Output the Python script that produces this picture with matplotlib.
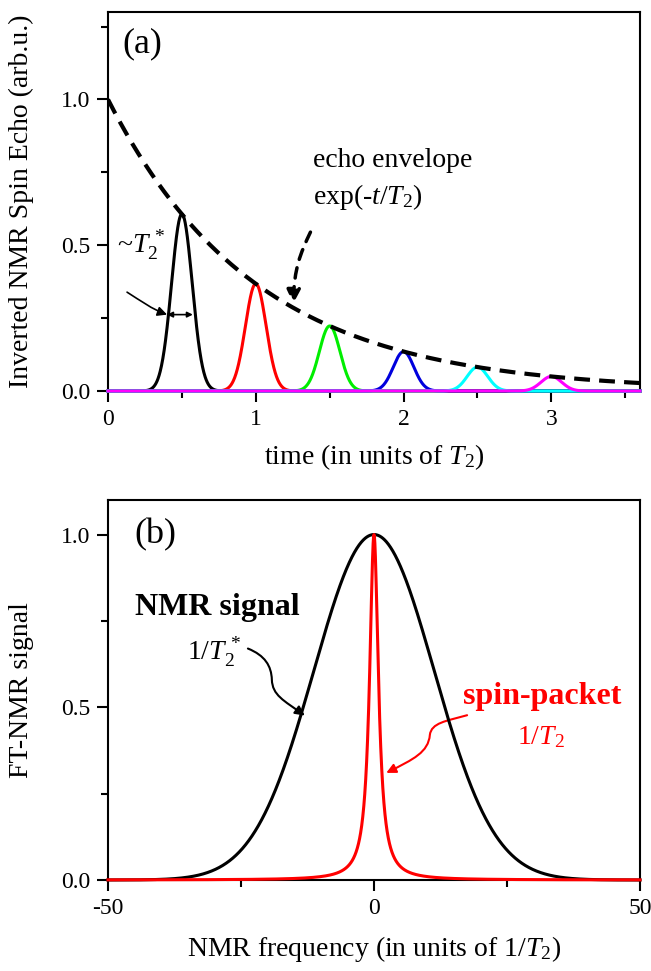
import numpy as np
import matplotlib
matplotlib.use("Agg")
import matplotlib.pyplot as plt
from matplotlib.patches import FancyArrowPatch
from matplotlib.path import Path
from matplotlib.ticker import MultipleLocator

plt.rcParams["font.family"] = ["Liberation Serif", "DejaVu Serif"]
plt.rcParams["mathtext.fontset"] = "custom"
plt.rcParams["mathtext.rm"] = "Liberation Serif"
plt.rcParams["mathtext.it"] = "Liberation Serif:italic"
plt.rcParams["mathtext.bf"] = "Liberation Serif:bold"

# panel (a): echo train
echo_centers = [0.5, 1.0, 1.5, 2.0, 2.5, 3.0]
echo_heights = [0.607, 0.368, 0.223, 0.135, 0.082, 0.050]
echo_width = 0.07  # gaussian sigma, units of T2
echo_colors = ["black", "red", "#00ee00", "#0000dd", "cyan", "magenta"]
envelope_T2 = 1.0

# panel (b): spectra
gauss_sigma = 11.3   # inhomogeneous line, units of 1/T2
lorentz_hwhm = 1.0   # spin-packet line

W, H = 651, 971
fig = plt.figure(figsize=(W / 100, H / 100), dpi=100)
ax_a = fig.add_axes([108 / W, 1 - 391 / H, 532 / W, 379 / H])
ax_b = fig.add_axes([108 / W, 1 - 880 / H, 532 / W, 380 / H])

FS = 20
FS_TICK = 17
FS_BOLD = 23

t = np.linspace(0, 3.6, 2000)
for c, h, col in zip(echo_centers, echo_heights, echo_colors):
    ax_a.plot(t, h * np.exp(-(t - c) ** 2 / (2 * echo_width ** 2)), color=col,
              lw=2.2, zorder=3, clip_on=False)
ax_a.plot(t, np.exp(-t / envelope_T2), color="black", lw=3.0, ls=(0, (3.8, 2.2)),
          zorder=3)

ax_a.set_xlim(0, 3.6)
ax_a.set_ylim(0, 1.3)
ax_a.xaxis.set_major_locator(MultipleLocator(1))
ax_a.xaxis.set_minor_locator(MultipleLocator(0.5))
ax_a.yaxis.set_major_locator(MultipleLocator(0.5))
ax_a.yaxis.set_minor_locator(MultipleLocator(0.25))
ax_a.xaxis.set_major_formatter(lambda v, p: f"{v:.0f}")
ax_a.yaxis.set_major_formatter(lambda v, p: f"{v:.1f}")
ax_a.set_xlabel(r"time (in units of $T_2$)", fontsize=FS)
ax_a.set_ylabel("Inverted NMR Spin Echo (arb.u.)", fontsize=FS)
ax_a.xaxis.set_label_coords(0.5, -0.135)
ax_a.yaxis.set_label_coords(-0.14, 0.5)

ax_a.text(0.1, 1.19, "(a)", fontsize=26, va="center")
ax_a.text(1.39, 0.79, "echo envelope", fontsize=FS, va="center")
ax_a.text(1.39, 0.665, r"exp(-$t$/$T_2$)", fontsize=FS, va="center")
ax_a.text(0.06, 0.5, r"~$T_2^{\,*}$", fontsize=FS, va="center")

p = Path([(0.129, 0.339), (0.22, 0.31), (0.30, 0.28), (0.40, 0.262)],
         [Path.MOVETO, Path.CURVE4, Path.CURVE4, Path.CURVE4])
ax_a.add_patch(FancyArrowPatch(path=p, arrowstyle="-|>", mutation_scale=14,
                               color="black", lw=1.2))
ax_a.annotate("", xy=(0.40, 0.262), xytext=(0.574, 0.262),
              arrowprops=dict(arrowstyle="<|-|>", color="black", lw=1.2,
                              mutation_scale=8, shrinkA=0, shrinkB=0))
p = Path([(1.37, 0.545), (1.30, 0.47), (1.26, 0.42), (1.254, 0.30)],
         [Path.MOVETO, Path.CURVE4, Path.CURVE4, Path.CURVE4])
ax_a.add_patch(FancyArrowPatch(path=p, arrowstyle="-|>", mutation_scale=20,
                               color="black", lw=2.5, ls=(0, (3, 2.5))))

f = np.linspace(-50, 50, 4000)
ax_b.plot(f, np.exp(-f ** 2 / (2 * gauss_sigma ** 2)), color="black", lw=2.2,
          zorder=3, clip_on=False)
ax_b.plot(f, 1 / (1 + (f / lorentz_hwhm) ** 2), color="red", lw=2.2,
          zorder=3, clip_on=False)

ax_b.set_xlim(-50, 50)
ax_b.set_ylim(0, 1.1)
ax_b.xaxis.set_major_locator(MultipleLocator(50))
ax_b.xaxis.set_minor_locator(MultipleLocator(25))
ax_b.yaxis.set_major_locator(MultipleLocator(0.5))
ax_b.yaxis.set_minor_locator(MultipleLocator(0.25))
ax_b.xaxis.set_major_formatter(lambda v, p: f"{v:.0f}")
ax_b.yaxis.set_major_formatter(lambda v, p: f"{v:.1f}")
ax_b.set_xlabel(r"NMR frequency (in units of 1/$T_2$)", fontsize=FS)
ax_b.set_ylabel("FT-NMR signal", fontsize=FS)
ax_b.xaxis.set_label_coords(0.5, -0.142)
ax_b.yaxis.set_label_coords(-0.14, 0.5)

ax_b.text(-45, 1.0, "(b)", fontsize=26, va="center")
ax_b.text(-44.9, 0.79, "NMR signal", fontsize=FS_BOLD, fontweight="bold", va="center")
ax_b.text(-35.2, 0.66, r"1/$T_2^{\,*}$", fontsize=FS, va="center")
ax_b.text(16.7, 0.53, "spin-packet", fontsize=FS_BOLD, fontweight="bold",
          color="red", va="center")
ax_b.text(26.9, 0.413, r"1/$T_2$", fontsize=FS, color="red", va="center")

p = Path([(-23.7, 0.67), (-20.5, 0.65), (-19.3, 0.62), (-19.2, 0.58),
          (-19.1, 0.535), (-17.0, 0.52), (-13.0, 0.476)],
         [Path.MOVETO, Path.CURVE4, Path.CURVE4, Path.CURVE4,
          Path.CURVE4, Path.CURVE4, Path.CURVE4])
ax_b.add_patch(FancyArrowPatch(path=p, arrowstyle="-|>", mutation_scale=14,
                               color="black", lw=1.5))
p = Path([(17.5, 0.477), (13.5, 0.46), (10.8, 0.455), (10.5, 0.42),
          (10.2, 0.37), (7.5, 0.35), (2.3, 0.31)],
         [Path.MOVETO, Path.CURVE4, Path.CURVE4, Path.CURVE4,
          Path.CURVE4, Path.CURVE4, Path.CURVE4])
ax_b.add_patch(FancyArrowPatch(path=p, arrowstyle="-|>", mutation_scale=14,
                               color="red", lw=1.5))

for ax in (ax_a, ax_b):
    for s in ax.spines.values():
        s.set_linewidth(1.5)
    ax.tick_params(which="major", direction="out", length=8, width=1.5,
                   labelsize=FS_TICK, pad=5)
    ax.tick_params(which="minor", direction="out", length=5, width=1.5)

fig.savefig("out.png", dpi=100)
